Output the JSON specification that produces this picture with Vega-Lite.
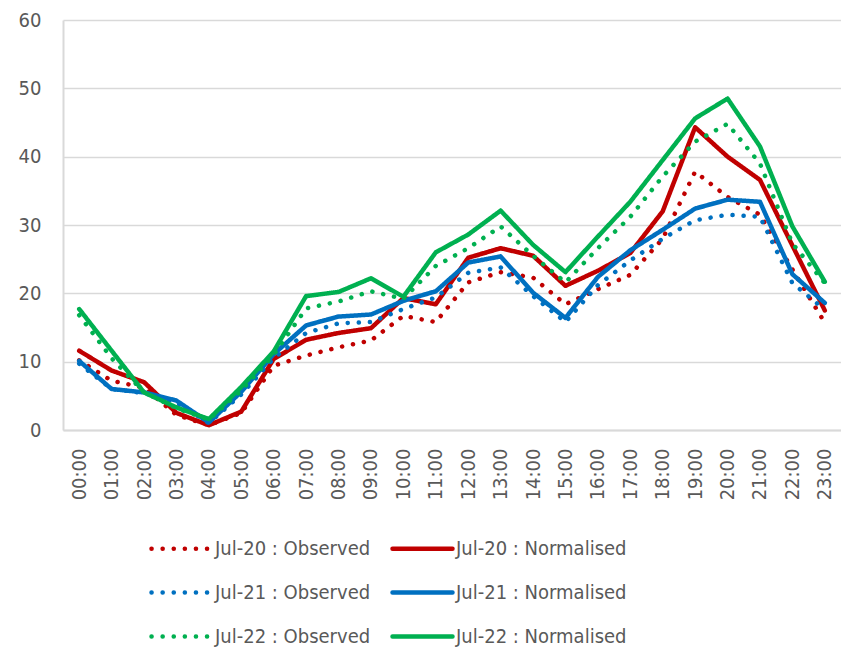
{
  "$schema": "https://vega.github.io/schema/vega-lite/v6.json",
  "width": 778,
  "height": 410,
  "autosize": "none",
  "padding": {"left": 63, "top": 20, "right": 0, "bottom": 218},
  "background": "white",
  "config": {
    "font": "DejaVu Sans Condensed",
    "view": {"stroke": null}
  },
  "datasets": {
    "wide": [
      {"hour": "00:00", "R_o": 10.2, "R_n": 11.6, "B_o": 9.7, "B_n": 10.1, "G_o": 16.8, "G_n": 17.7},
      {"hour": "01:00", "R_o": 7.2, "R_n": 8.7, "B_o": 6.0, "B_n": 6.0, "G_o": 10.5, "G_n": 11.6},
      {"hour": "02:00", "R_o": 6.2, "R_n": 7.0, "B_o": 5.4, "B_n": 5.5, "G_o": 5.5, "G_n": 5.5},
      {"hour": "03:00", "R_o": 2.2, "R_n": 2.5, "B_o": 4.0, "B_n": 4.3, "G_o": 3.2, "G_n": 3.3},
      {"hour": "04:00", "R_o": 0.7, "R_n": 0.7, "B_o": 1.0, "B_n": 1.1, "G_o": 1.5, "G_n": 1.6},
      {"hour": "05:00", "R_o": 2.5, "R_n": 2.7, "B_o": 5.2, "B_n": 5.6, "G_o": 5.8, "G_n": 6.3},
      {"hour": "06:00", "R_o": 9.4, "R_n": 10.4, "B_o": 10.5, "B_n": 11.1, "G_o": 11.0, "G_n": 11.5},
      {"hour": "07:00", "R_o": 10.9, "R_n": 13.2, "B_o": 14.2, "B_n": 15.3, "G_o": 17.8, "G_n": 19.6},
      {"hour": "08:00", "R_o": 12.1, "R_n": 14.2, "B_o": 15.6, "B_n": 16.6, "G_o": 18.8, "G_n": 20.2},
      {"hour": "09:00", "R_o": 13.1, "R_n": 14.9, "B_o": 15.8, "B_n": 16.9, "G_o": 20.3, "G_n": 22.2},
      {"hour": "10:00", "R_o": 16.7, "R_n": 19.3, "B_o": 17.7, "B_n": 18.9, "G_o": 19.2, "G_n": 19.5},
      {"hour": "11:00", "R_o": 15.8, "R_n": 18.4, "B_o": 19.4, "B_n": 20.3, "G_o": 24.0, "G_n": 26.0},
      {"hour": "12:00", "R_o": 21.6, "R_n": 25.2, "B_o": 23.0, "B_n": 24.5, "G_o": 26.6, "G_n": 28.6},
      {"hour": "13:00", "R_o": 23.1, "R_n": 26.6, "B_o": 23.8, "B_n": 25.4, "G_o": 29.8, "G_n": 32.1},
      {"hour": "14:00", "R_o": 22.3, "R_n": 25.5, "B_o": 19.6, "B_n": 20.1, "G_o": 25.5, "G_n": 27.1},
      {"hour": "15:00", "R_o": 18.4, "R_n": 21.1, "B_o": 15.8, "B_n": 16.4, "G_o": 21.6, "G_n": 23.1},
      {"hour": "16:00", "R_o": 20.6, "R_n": 23.3, "B_o": 21.2, "B_n": 22.4, "G_o": 26.6, "G_n": 28.3},
      {"hour": "17:00", "R_o": 22.7, "R_n": 25.9, "B_o": 24.8, "B_n": 26.3, "G_o": 31.2, "G_n": 33.4},
      {"hour": "18:00", "R_o": 28.0, "R_n": 32.0, "B_o": 28.0, "B_n": 29.3, "G_o": 37.1, "G_n": 39.5},
      {"hour": "19:00", "R_o": 37.8, "R_n": 44.3, "B_o": 30.7, "B_n": 32.4, "G_o": 42.2, "G_n": 45.6},
      {"hour": "20:00", "R_o": 34.1, "R_n": 40.0, "B_o": 31.5, "B_n": 33.7, "G_o": 44.8, "G_n": 48.5},
      {"hour": "21:00", "R_o": 31.5, "R_n": 36.6, "B_o": 31.2, "B_n": 33.4, "G_o": 39.0, "G_n": 41.5},
      {"hour": "22:00", "R_o": 23.5, "R_n": 27.0, "B_o": 21.5, "B_n": 22.8, "G_o": 27.3, "G_n": 29.8},
      {"hour": "23:00", "R_o": 15.7, "R_n": 17.5, "B_o": 17.6, "B_n": 18.6, "G_o": 21.5, "G_n": 21.7}
    ]
  },
  "data": {"name": "wide"},
  "transform": [
    {"fold": ["R_o", "R_n", "B_o", "B_n", "G_o", "G_n"], "as": ["key", "value"]},
    {"lookup": "key", "from": {"data": {"values": [
      {"key": "R_o", "series": "Jul-20 : Observed", "ord": 1},
      {"key": "R_n", "series": "Jul-20 : Normalised", "ord": 2},
      {"key": "B_o", "series": "Jul-21 : Observed", "ord": 3},
      {"key": "B_n", "series": "Jul-21 : Normalised", "ord": 4},
      {"key": "G_o", "series": "Jul-22 : Observed", "ord": 5},
      {"key": "G_n", "series": "Jul-22 : Normalised", "ord": 6}
    ]}, "key": "key", "fields": ["series", "ord"]}}
  ],
  "mark": {"type": "line", "strokeWidth": 4.5, "strokeCap": "round", "strokeJoin": "round"},
  "encoding": {
    "x": {
      "field": "hour", "type": "ordinal",
      "scale": {"type": "point", "padding": 0.5},
      "axis": {
        "title": null, "labelAngle": -90, "labelFontSize": 20, "labelColor": "#595959",
        "ticks": false, "labelPadding": 18, "domainColor": "#d9d9d9", "domainWidth": 2,
        "grid": false
      }
    },
    "y": {
      "field": "value", "type": "quantitative",
      "scale": {"domain": [0, 60], "nice": false},
      "axis": {
        "title": null, "values": [0, 10, 20, 30, 40, 50, 60], "labelFontSize": 20,
        "labelColor": "#595959", "ticks": false, "labelPadding": 22,
        "domainColor": "#d9d9d9", "domainWidth": 2, "gridColor": "#d9d9d9", "gridWidth": 1.5
      }
    },
    "detail": {"field": "ord", "type": "ordinal"},
    "order": {"field": "hour"},
    "color": {
      "field": "series", "type": "nominal",
      "scale": {
        "domain": ["Jul-20 : Observed", "Jul-20 : Normalised", "Jul-21 : Observed", "Jul-21 : Normalised", "Jul-22 : Observed", "Jul-22 : Normalised"],
        "range": ["#C00000", "#C00000", "#0070C0", "#0070C0", "#00B050", "#00B050"]
      },
      "legend": {
        "title": null, "orient": "none", "legendX": 86, "legendY": 496,
        "direction": "horizontal",
        "columns": 2, "columnPadding": 12, "rowPadding": 1,
        "symbolType": "stroke", "symbolSize": 3600, "symbolStrokeWidth": 4.5,
        "labelFontSize": 20, "labelColor": "#595959", "labelOffset": 1, "labelLimit": 400,
        "encode": {"symbols": {"update": {"strokeCap": {"value": "round"}}}}
      }
    },
    "strokeDash": {
      "field": "series", "type": "nominal",
      "scale": {
        "domain": ["Jul-20 : Observed", "Jul-20 : Normalised", "Jul-21 : Observed", "Jul-21 : Normalised", "Jul-22 : Observed", "Jul-22 : Normalised"],
        "range": [[0.1, 11], [1, 0], [0.1, 11], [1, 0], [0.1, 11], [1, 0]]
      },
      "legend": {"title": null}
    }
  }
}
